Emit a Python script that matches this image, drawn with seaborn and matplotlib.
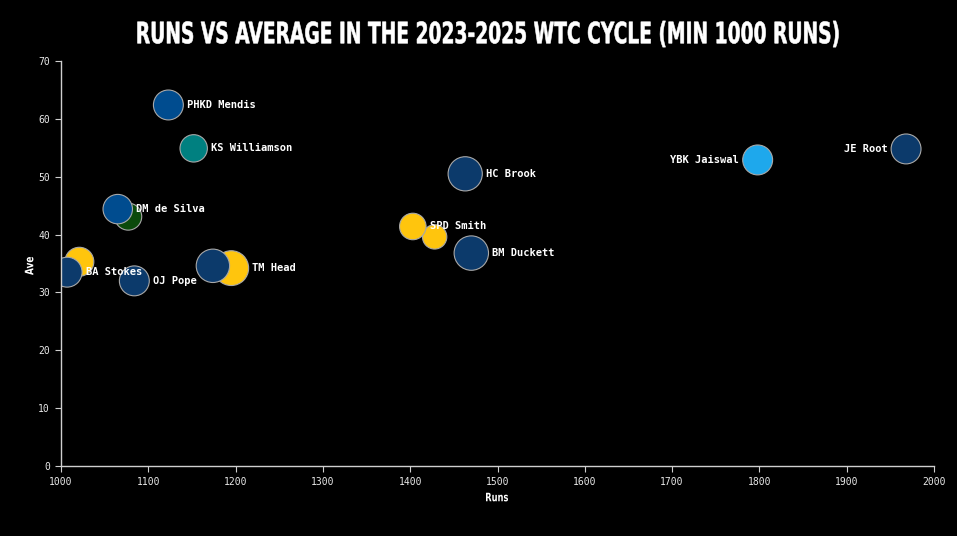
import numpy as np
import pandas as pd
import matplotlib.pyplot as plt
import seaborn as sns
from matplotlib.textpath import TextPath
from matplotlib.patches import PathPatch
from matplotlib.font_manager import FontProperties
from matplotlib.transforms import Affine2D, IdentityTransform

# Data, ordered by runs descending = draw order
players = ["JE Root", "YBK Jaiswal", "BM Duckett", "HC Brook", "", "SPD Smith", "TM Head", "",
           "KS Williamson", "PHKD Mendis", "OJ Pope", "", "DM de Silva", "", "BA Stokes"]
teams = ["England", "India", "England", "England", "Australia", "Australia", "Australia", "England",
         "New Zealand", "Sri Lanka", "England", "Pakistan", "Sri Lanka", "Australia", "England"]
runs = [1968, 1798, 1470, 1463, 1428, 1403, 1195, 1174, 1152, 1123, 1084, 1077, 1065, 1021, 1007]
average = [54.8, 52.9, 36.8, 50.5, 39.6, 41.4, 34.2, 34.6, 54.9, 62.4, 32.0, 43.1, 44.4, 35.3, 33.5]
# strike rate
strike_rate = [65, 65, 86, 85, 43, 51, 88, 81, 54.5, 65, 65, 53, 63, 61, 65]

label_left = ["JE Root", "YBK Jaiswal"]

team_colors = {
    "England": "#0c3a6b",
    "India": "#1ea8ec",
    "Australia": "#ffc50d",
    "New Zealand": "#008080",
    "Sri Lanka": "#004c8f",
    "Pakistan": "#0b4a0b",
}

TITLE = "RUNS VS AVERAGE IN THE 2023-2025 WTC CYCLE (MIN 1000 RUNS)"

df = pd.DataFrame({"Player": players, "Team": teams, "Runs": runs,
                   "Ave": average, "SR": strike_rate})

sns.set_style("dark")
plt.rcParams["font.family"] = ["DejaVu Sans Mono", "DejaVu Sans"]

W, H = 957, 536
fig = plt.figure(figsize=(W / 100, H / 100), dpi=100, facecolor="black")
ax = fig.add_axes([61 / W, 70 / H, 873 / W, 405 / H])
ax.set_facecolor("black")

SIZE_MAX = 713.5
sns.scatterplot(data=df, x="Runs", y="Ave", hue="Team", palette=team_colors,
                size="SR", sizes=(0, SIZE_MAX), size_norm=(0, 100),
                edgecolor="#a8a8a8", linewidth=0.8, alpha=1, legend=False, ax=ax)

# labels next to the bubbles
for _, row in df.iterrows():
    if not row["Player"]:
        continue
    s = SIZE_MAX * row["SR"] / 100
    off = np.sqrt(s) / 2 + 2.5
    if row["Player"] in label_left:
        ax.annotate(row["Player"], (row["Runs"], row["Ave"]), xytext=(-off, 0),
                    textcoords="offset points", ha="right", va="center",
                    color="white", fontsize=7.5, fontweight="bold")
    else:
        ax.annotate(row["Player"], (row["Runs"], row["Ave"]), xytext=(off, 0),
                    textcoords="offset points", ha="left", va="center",
                    color="white", fontsize=7.5, fontweight="bold")

ax.set_xlim(1000, 2000)
ax.set_ylim(0, 70)
ax.set_xticks(range(1000, 2001, 100))
ax.set_yticks(range(0, 71, 10))
ax.grid(False)
for side in ["top", "right"]:
    ax.spines[side].set_visible(False)
for side in ["left", "bottom"]:
    ax.spines[side].set_visible(True)
    ax.spines[side].set_color("#cfcfcf")
    ax.spines[side].set_linewidth(1)
ax.tick_params(colors="#cfcfcf", labelcolor="#e8e8e8", labelsize=7, length=4.5, width=0.8,
               direction="out", left=True, bottom=True)
ax.set_xlabel("")
ax.set_ylabel("")


def condensed_text(text, cx, cy, width, cap, weight="bold", rotate=0, stroke=0.0):
    # no condensed font installed, so squeeze a DejaVu text path to the target width
    fp = FontProperties(family="DejaVu Sans", weight=weight)
    path = TextPath((0, 0), text, size=100, prop=fp)
    ext = path.get_extents()
    sx = width / ext.width
    sy = cap / 73.0
    tr = (Affine2D().translate(-(ext.x0 + ext.width / 2), -36.5)
          .scale(sx, sy).rotate_deg(rotate).translate(cx, H - cy))
    fig.add_artist(PathPatch(tr.transform_path(path), facecolor="white",
                             edgecolor="white", linewidth=stroke,
                             transform=IdentityTransform()))


condensed_text(TITLE, 488, 32.5, 701, 21.5, stroke=0.4)
condensed_text("Runs", 497, 497, 22, 8.5)
condensed_text("Ave", 29, 266, 18, 8.5, rotate=90)

fig.savefig("out.png", dpi=100, facecolor="black")
